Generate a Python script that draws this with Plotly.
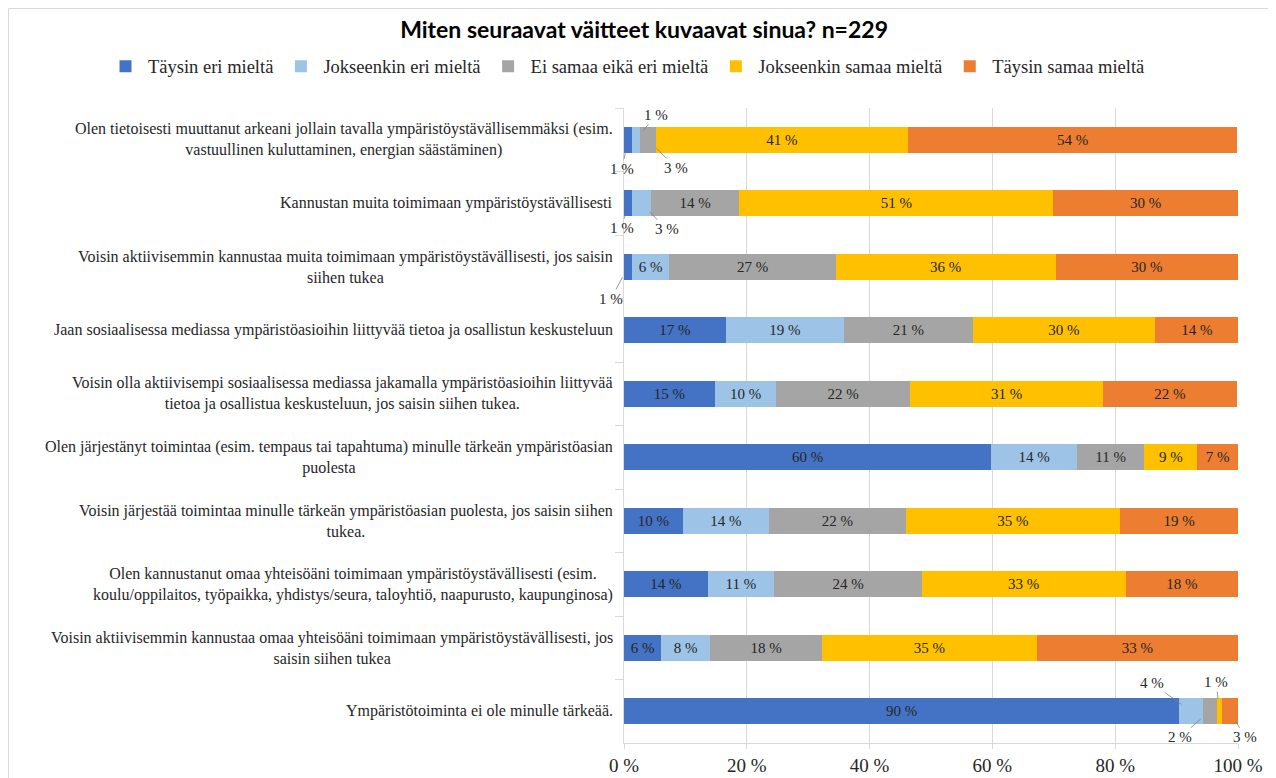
import plotly.graph_objects as go

# väitteet (ylhäältä alas)
statements = [
    "Olen tietoisesti muuttanut arkeani jollain tavalla ympäristöystävällisemmäksi (esim.<br>vastuullinen kuluttaminen, energian säästäminen)",
    "Kannustan muita toimimaan ympäristöystävällisesti",
    "Voisin aktiivisemmin kannustaa muita toimimaan ympäristöystävällisesti, jos saisin<br>siihen tukea",
    "Jaan sosiaalisessa mediassa ympäristöasioihin liittyvää tietoa ja osallistun keskusteluun",
    "Voisin olla aktiivisempi sosiaalisessa mediassa jakamalla ympäristöasioihin liittyvää<br>tietoa ja osallistua keskusteluun, jos saisin siihen tukea.",
    "Olen järjestänyt toimintaa (esim. tempaus tai tapahtuma) minulle tärkeän ympäristöasian<br>puolesta",
    "Voisin järjestää toimintaa minulle tärkeän ympäristöasian puolesta, jos saisin siihen<br>tukea.",
    "Olen kannustanut omaa yhteisöäni toimimaan ympäristöystävällisesti (esim.<br>koulu/oppilaitos, työpaikka, yhdistys/seura, taloyhtiö, naapurusto, kaupunginosa)",
    "Voisin aktiivisemmin kannustaa omaa yhteisöäni toimimaan ympäristöystävällisesti, jos<br>saisin siihen tukea",
    "Ympäristötoiminta ei ole minulle tärkeää.",
]

series_names = ["Täysin eri mieltä", "Jokseenkin eri mieltä", "Ei samaa eikä eri mieltä",
                "Jokseenkin samaa mieltä", "Täysin samaa mieltä"]

taysin_eri = [1.3, 1.3, 1.3, 16.6, 14.8, 59.8, 9.6, 13.6, 6.1, 90.4]
jokseenkin_eri = [1.3, 3.1, 6.1, 19.2, 10.0, 14.0, 14.0, 10.9, 7.9, 3.9]
ei_samaa_eika_eri = [2.6, 14.4, 27.1, 21.0, 21.8, 10.9, 22.3, 24.0, 18.3, 2.2]
jokseenkin_samaa = [41.0, 51.1, 35.8, 29.7, 31.4, 8.7, 34.9, 33.2, 34.9, 0.9]
taysin_samaa = [53.7, 30.1, 29.7, 13.6, 21.8, 6.6, 19.2, 18.3, 32.8, 2.6]

x_ticks = [0, 20, 40, 60, 80, 100]
x_tick_labels = ["0 %", "20 %", "40 %", "60 %", "80 %", "100 %"]

series_values = [taysin_eri, jokseenkin_eri, ei_samaa_eika_eri, jokseenkin_samaa, taysin_samaa]
colors = ["#4472C4", "#9DC3E6", "#A5A5A5", "#FFC000", "#ED7D31"]

SERIF = "Liberation Serif, Times New Roman, serif"
TXT = "#262626"
GRID = "#D9D9D9"

# pienet osuudet merkitään palkin ulkopuolelle: (rivi, sarja) -> (ax, ay)
callout_offsets = {
    (0, 0): (-6, 29), (0, 1): (20, -25), (0, 2): (28, 28),
    (1, 0): (-6, 25), (1, 1): (25, 26),
    (2, 0): (-17, 32),
    (9, 1): (-39, -28), (9, 2): (-30, 26), (9, 3): (-3, -29), (9, 4): (15, 26),
}

fig = go.Figure()
for name, vals, col in zip(series_names, series_values, colors):
    fig.add_trace(go.Bar(
        y=statements, x=vals, name=name, orientation="h",
        marker=dict(color=col, line=dict(width=0)),
        text=["" if v < 5 else f"{v:.0f} %" for v in vals],
        textposition="inside", insidetextanchor="middle", textangle=0,
        textfont=dict(family=SERIF, size=15, color=TXT),
        hoverinfo="x+name",
    ))

annotations = []
# kategorioiden nimet keskitettyinä kuten Excelissä
for s in statements:
    annotations.append(dict(
        x=-0.015, xref="paper", y=s, yref="y", text=s, showarrow=False,
        xanchor="right", align="center",
        font=dict(family=SERIF, size=16, color=TXT),
    ))

# ulkopuoliset arvot johdinviivoineen
for (r, si), (ax, ay) in callout_offsets.items():
    left = sum(series_values[k][r] for k in range(si))
    v = series_values[si][r]
    annotations.append(dict(
        x=left + v / 2, y=statements[r], xref="x", yref="y",
        text=f"{v:.0f} %", showarrow=True, arrowhead=0, arrowwidth=0.8,
        arrowcolor="#7f7f7f", ax=ax, ay=ay, standoff=12,
        font=dict(family=SERIF, size=15, color=TXT),
    ))

fig.update_layout(
    barmode="stack",
    bargap=0.59,
    width=1276, height=778,
    margin=dict(l=616, r=46, t=100, b=43, autoexpand=False),
    paper_bgcolor="white", plot_bgcolor="white",
    font=dict(family=SERIF, color=TXT),
    title=dict(text="<b>Miten seuraavat väitteet kuvaavat sinua? n=229</b>",
               x=0.4985, xanchor="center", y=0.9717, yanchor="middle",
               xref="container",
               font=dict(family="Lato, Open Sans, sans-serif", size=23, color="#000000")),
    legend=dict(orientation="h", x=-0.8485, xref="paper", xanchor="left",
                y=1.065, yref="paper", yanchor="middle", itemwidth=35,
                font=dict(family=SERIF, size=18.5, color=TXT),
                traceorder="normal", itemclick=False),
    annotations=annotations,
    shapes=[dict(type="rect", xref="paper", yref="paper",
                 x0=-1.0024, x1=1.2, y0=-0.2, y1=1.1567,
                 line=dict(color=GRID, width=1), layer="below")],
    showlegend=True,
)
fig.update_xaxes(range=[0, 100], tickvals=x_ticks, ticktext=x_tick_labels,
                 showgrid=True, gridcolor=GRID, gridwidth=1,
                 zeroline=False, showline=True, linecolor=GRID,
                 ticks="outside", ticklen=5, tickcolor=GRID, ticklabelstandoff=0,
                 tickfont=dict(family=SERIF, size=19, color=TXT), fixedrange=True)
fig.update_yaxes(range=[len(statements) - 0.5, -0.5], autorange=False,
                 showticklabels=False, showgrid=False,
                 ticks="outside", tickson="boundaries", ticklen=8, tickcolor=GRID,
                 showline=True, linecolor=GRID, zeroline=False, fixedrange=True)

fig.write_html("out.html")
